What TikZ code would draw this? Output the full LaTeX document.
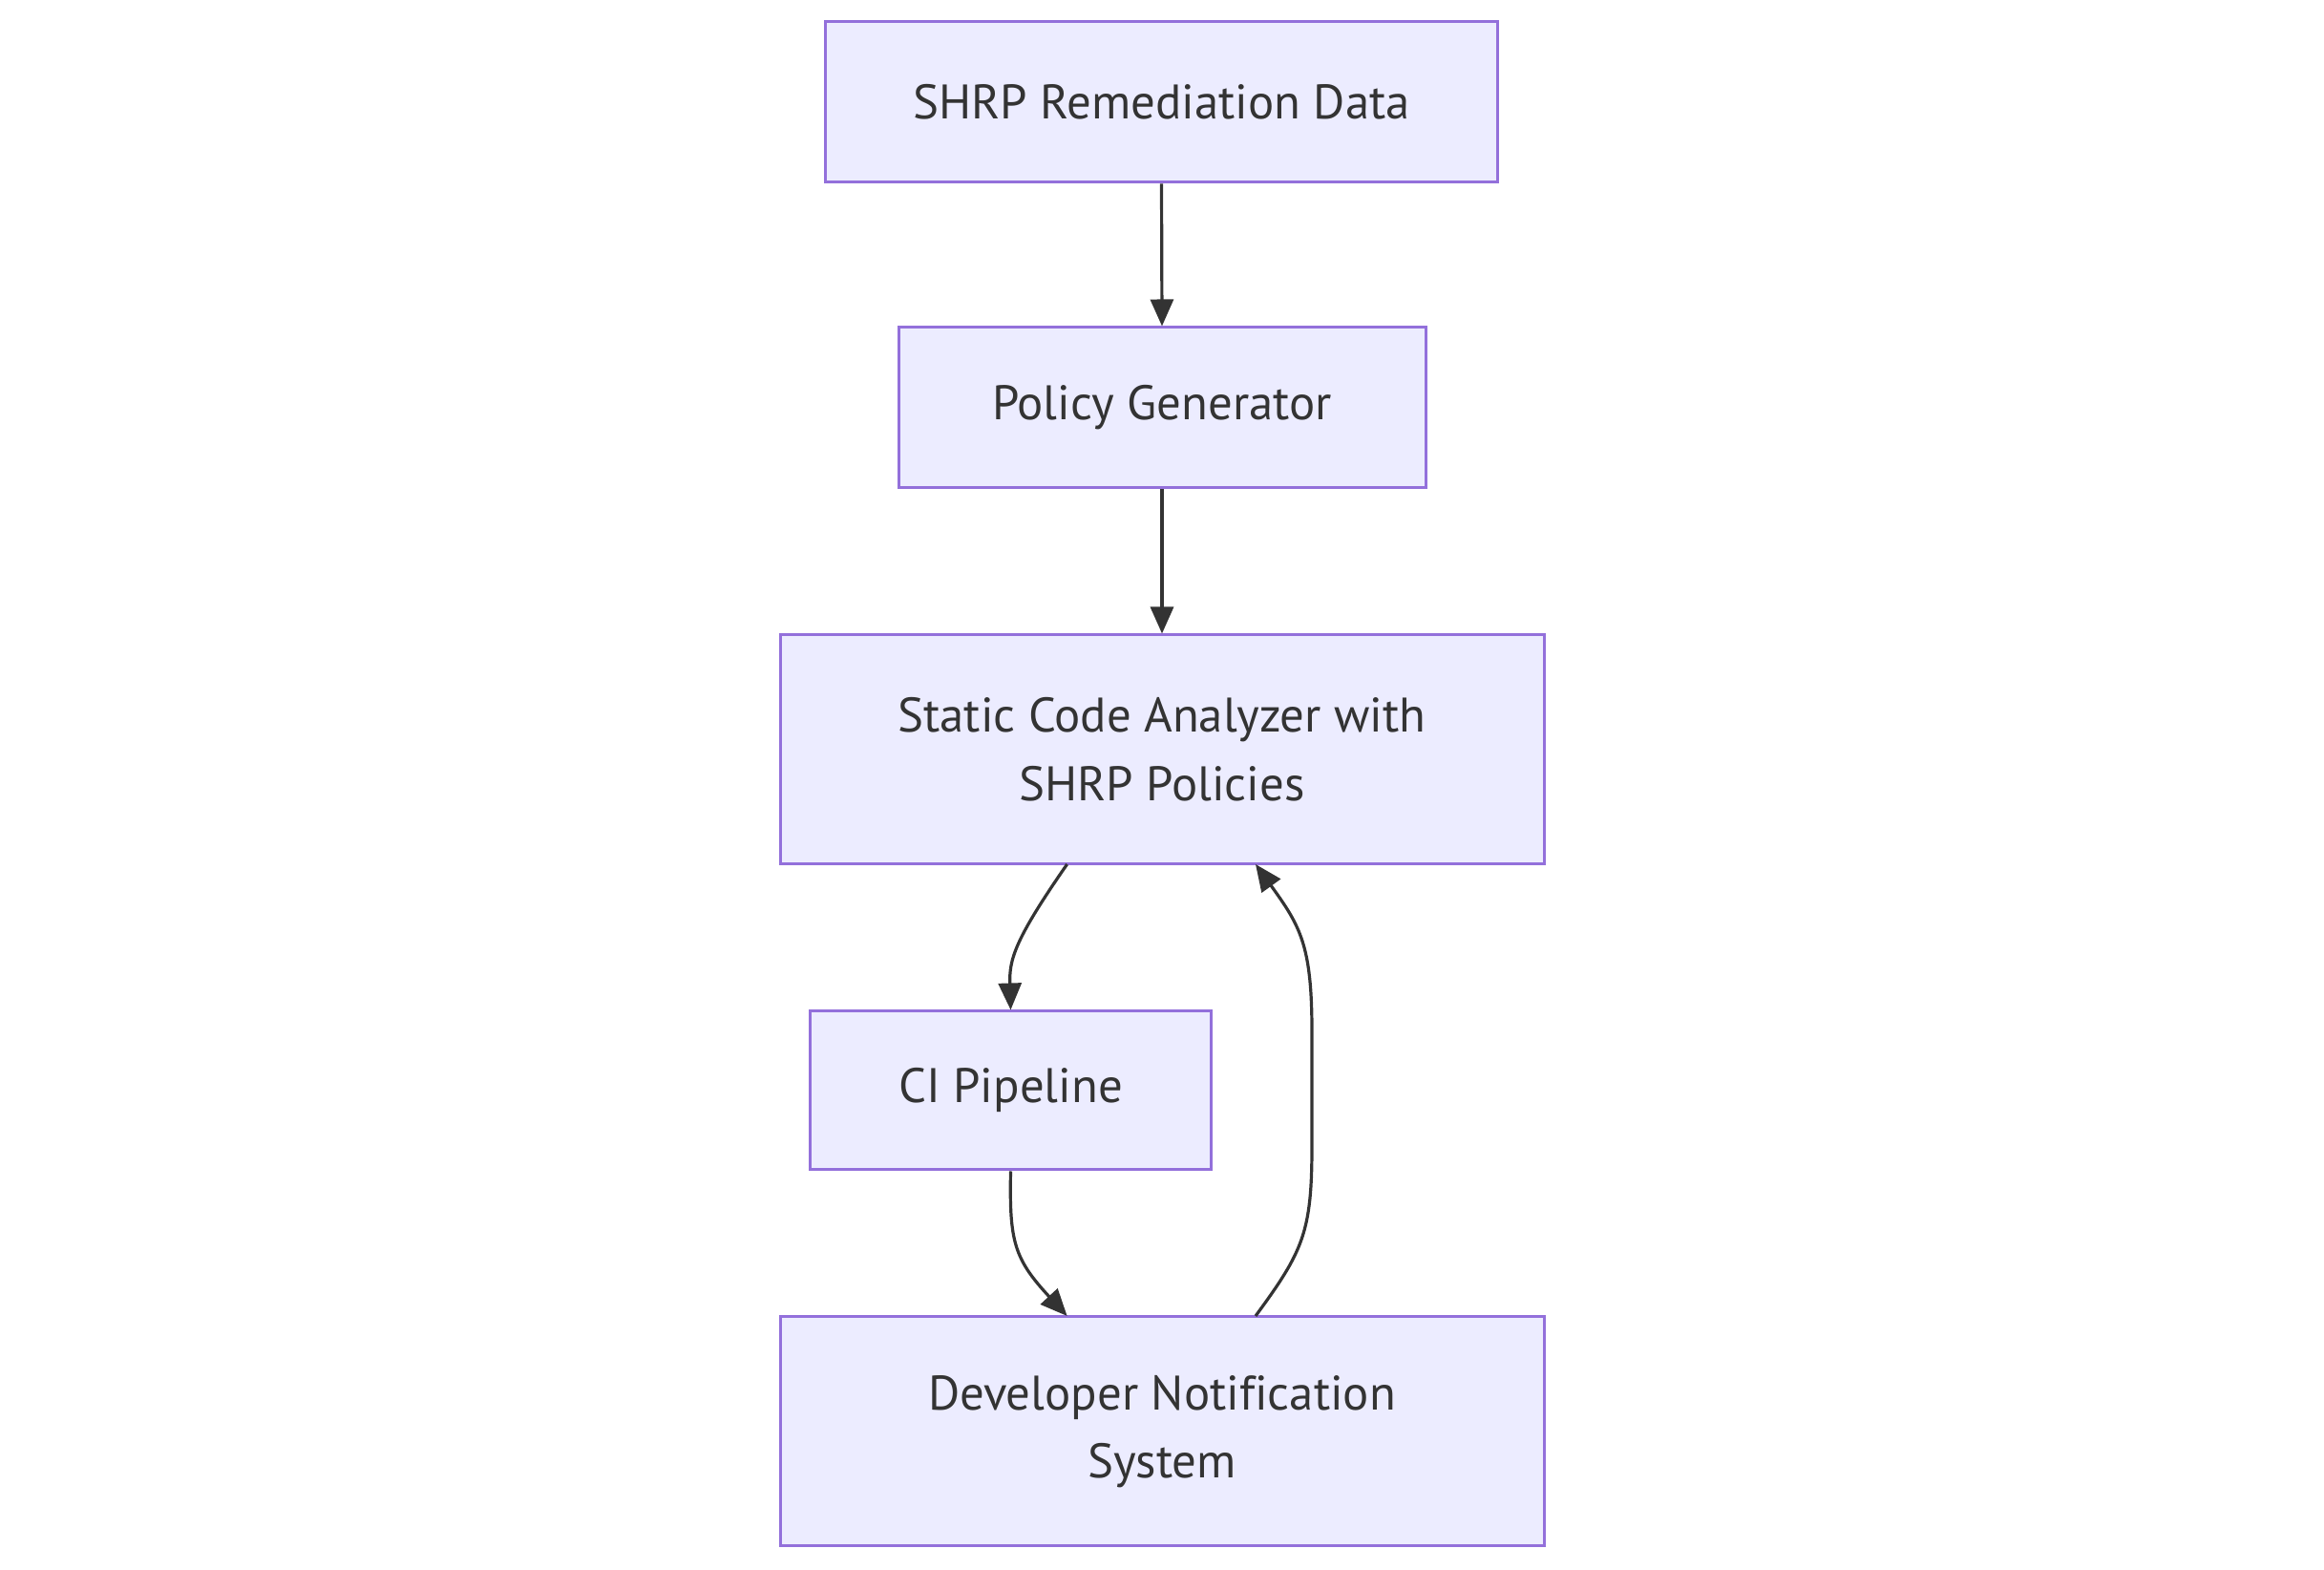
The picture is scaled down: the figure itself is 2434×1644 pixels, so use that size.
\documentclass[tikz,border=0pt]{standalone}
\usepackage{fontspec}
\setmainfont[Ligatures=NoCommon]{PT Sans}
\usetikzlibrary{arrows.meta}
\definecolor{nodefill}{HTML}{ECECFF}
\definecolor{nodeborder}{HTML}{9370DB}
\definecolor{edgecol}{HTML}{333333}
\begin{document}
\begin{tikzpicture}[x=0.25pt,y=-0.25pt,
  box/.style={draw=nodeborder,fill=nodefill,line width=0.75pt,rectangle,
    inner sep=0pt,align=center,text=edgecol,
    font=\fontsize{12.7}{17.9}\selectfont},
  flow/.style={draw=edgecol,line width=0.8pt,
    -{Triangle[length=7pt,width=6pt]}}]
\useasboundingbox[fill=white] (0,0) rectangle (2434,1644);
\node[box,minimum width=176pt,minimum height=42pt] (A) at (1216.5,107) {SHRP Remediation Data};
\node[box,minimum width=138pt,minimum height=42pt] (B) at (1217,427) {Policy Generator};
\node[box,minimum width=200pt,minimum height=60pt] (C) at (1217,785) {Static Code Analyzer with\\SHRP Policies};
\node[box,minimum width=105pt,minimum height=41.5pt] (D) at (1058.5,1142) {CI Pipeline};
\node[box,minimum width=200pt,minimum height=60pt] (E) at (1217,1499) {Developer Notification\\System};
\coordinate (cd1) at (1117.6,905);
\coordinate (de2) at (1117.6,1378);
\coordinate (ec1) at (1315,1378);
\coordinate (ec2) at (1315,905);
\draw[flow] (A.south) -- (B.north);
\draw[flow] (B.south) -- (C.north);
\draw[flow] (cd1) .. controls (1062,985) and (1057,1005) .. (D.north);
\draw[flow] (D.south) .. controls (1057,1300) and (1062,1318) .. (de2);
\draw[flow] (ec1) .. controls (1365,1310) and (1374,1290) .. (1374,1200) -- (1374,1080) .. controls (1374,990) and (1362,970) .. (ec2);
\end{tikzpicture}
\end{document}
